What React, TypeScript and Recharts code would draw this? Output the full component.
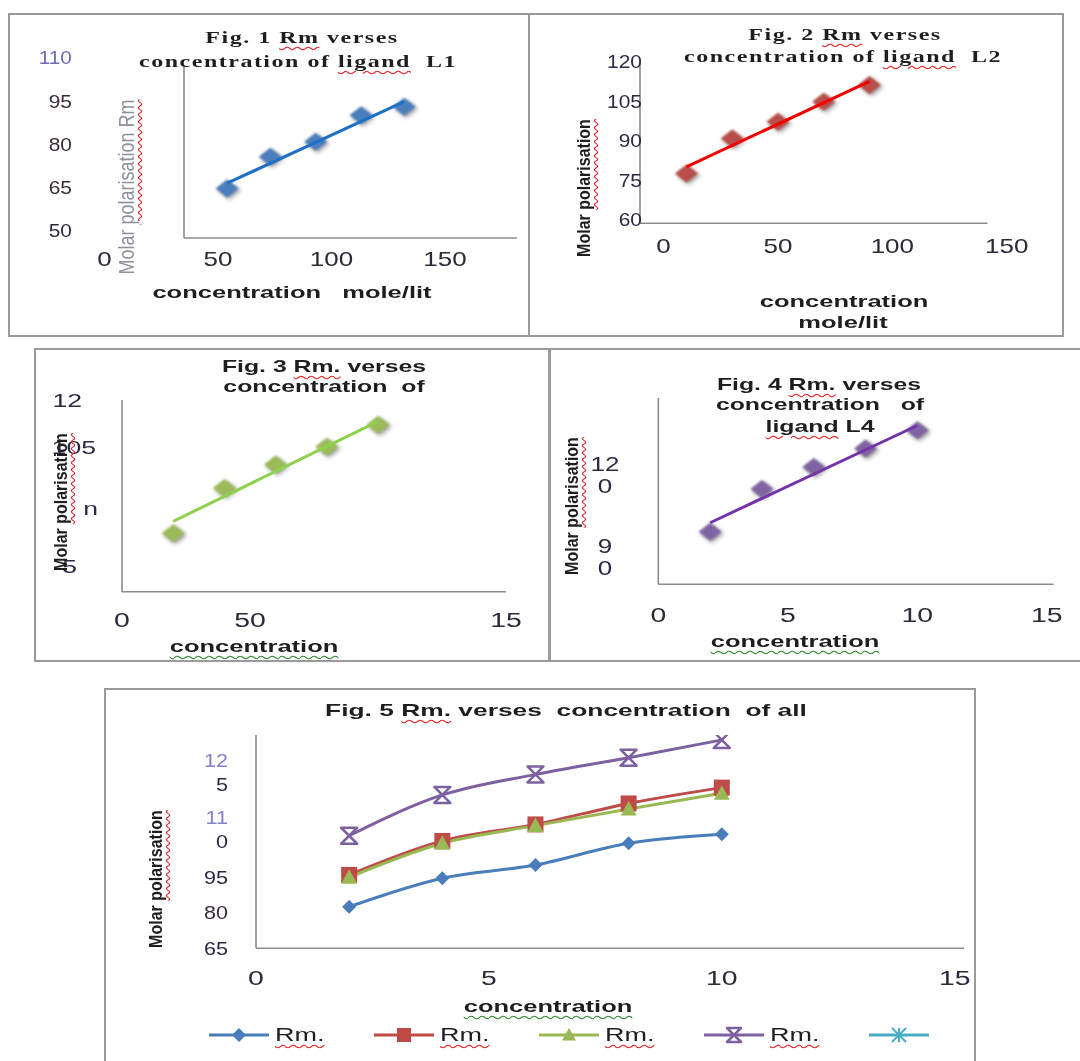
import React from 'react';
import { ScatterChart, Scatter, XAxis, YAxis, LineChart, Line, Legend } from 'recharts';

const W = 1080;
const H = 1061;

// ---------- Fig. 1 (ligand L1) ----------
const fig1X = [54, 73, 93, 113, 132];
const fig1Y = [64.7, 75.7, 80.9, 90.1, 93.0];
const fig1TrendX = [54, 132];
const fig1TrendY = [66.5, 94.8];
const fig1XTicks = [0, 50, 100, 150];
const fig1XLabels = [['0'], ['50'], ['100'], ['150']];
const fig1YTicks = [50, 65, 80, 95, 110];
const fig1YLabels = [['50'], ['65'], ['80'], ['95'], ['110']];

// ---------- Fig. 2 (ligand L2) ----------
const fig2X = [10, 30, 50, 70, 90];
const fig2Y = [77.5, 90.8, 97.2, 104.8, 111.1];
const fig2TrendX = [10, 90];
const fig2TrendY = [80.0, 112.5];
const fig2XTicks = [0, 50, 100, 150];
const fig2XLabels = [['0'], ['50'], ['100'], ['150']];
const fig2YTicks = [60, 75, 90, 105, 120];
const fig2YLabels = [['60'], ['75'], ['90'], ['105'], ['120']];

// ---------- Fig. 3 ----------
const fig3X = [2, 4, 6, 8, 10];
const fig3Y = [84.0, 96.2, 102.6, 107.4, 113.3];
const fig3TrendX = [2, 10];
const fig3TrendY = [87.2, 114.2];
const fig3XTicks = [0, 5, 15];
const fig3XLabels = [['0'], ['50'], ['15']];
const fig3YTicks = [75, 90, 105, 120];
const fig3YLabels = [['5'], ['n'], ['105'], ['12']];

// ---------- Fig. 4 (ligand L4) ----------
const fig4X = [2, 4, 6, 8, 10];
const fig4Y = [99.2, 114.9, 123.0, 129.8, 136.5];
const fig4TrendX = [2, 10];
const fig4TrendY = [102.5, 138.2];
const fig4XTicks = [0, 5, 10, 15];
const fig4XLabels = [['0'], ['5'], ['10'], ['15']];
const fig4YTicks = [90, 120];
const fig4YLabels = [['9', '0'], ['12', '0']];

// ---------- Fig. 5 (all ligands) ----------
const fig5X = [2, 4, 6, 8, 10];
const fig5S1 = [82.6, 94.7, 100.3, 109.5, 113.3];
const fig5S2 = [96.1, 110.5, 117.5, 126.4, 133.1];
const fig5S3 = [95.1, 109.5, 117.0, 124.0, 130.7];
const fig5S4 = [112.7, 130.0, 138.7, 145.8, 153.3];
const fig5Names = ['Rm.', 'Rm.', 'Rm.', 'Rm.', ''];
const fig5Colors = ['#4a7ebb', '#be4b48', '#98b954', '#7d60a0', '#4bacc6'];
const fig5Markers = ['diamond', 'square', 'triangle', 'hourglass', 'asterisk'];
const fig5XTicks = [0, 5, 10, 15];
const fig5XLabels = [['0'], ['5'], ['10'], ['15']];
const fig5YTicks = [65, 80, 95, 110, 125];
const fig5YLabels = [['65'], ['80'], ['95'], ['11', '0'], ['12', '5']];

const SANS = '"Liberation Sans", Arial, sans-serif';
const SERIF = '"Liberation Serif", "Times New Roman", serif';
const AXIS = { stroke: '#8c8c8c', strokeWidth: 1.6 };

type Pt = { x: number; y: number };
const toPts = (xs: number[], ys: number[]): Pt[] => xs.map((x, i) => ({ x, y: ys[i] }));

type TickStyle = {
  size: number; sx: number; color: string; anchor: 'start' | 'middle' | 'end'; gap: number;
  align?: 'center' | 'last'; dx?: number[]; dy?: number[]; colors?: string[];
};

function lookupIndex(ticks: number[], v: number): number {
  return ticks.findIndex((t) => Math.abs(t - v) < 1e-6);
}

function makeXTick(ticks: number[], labels: string[][], labelY: number, st: TickStyle) {
  return (props: any) => {
    const { x, payload } = props;
    const i = lookupIndex(ticks, payload.value);
    const lines = i >= 0 ? labels[i] : [String(payload.value)];
    return (
      <g>
        {lines.map((ln, k) => (
          <text key={k} transform={`translate(${x},${labelY + k * st.gap}) scale(${st.sx},1)`} textAnchor="middle"
            dominantBaseline="central" fontFamily={SANS} fontSize={st.size} fill={st.color}>{ln}</text>
        ))}
      </g>
    );
  };
}

function makeYTick(ticks: number[], labels: string[][], labelX: number, st: TickStyle) {
  return (props: any) => {
    const { y, payload } = props;
    const i = lookupIndex(ticks, payload.value);
    const lines = i >= 0 ? labels[i] : [String(payload.value)];
    const n = lines.length;
    const dx = st.dx && i >= 0 ? st.dx[i] : 0;
    const dy = st.dy && i >= 0 ? st.dy[i] : 0;
    const fill = st.colors && i >= 0 ? st.colors[i] : st.color;
    return (
      <g>
        {lines.map((ln, k) => {
          const yy = (st.align === 'last' ? y - (n - 1 - k) * st.gap : y + (k - (n - 1) / 2) * st.gap) + dy;
          return (
            <text key={k} transform={`translate(${labelX + dx},${yy}) scale(${st.sx},1)`} textAnchor={st.anchor}
              dominantBaseline="central" fontFamily={SANS} fontSize={st.size} fill={k === 0 ? fill : st.color}>{ln}</text>
          );
        })}
      </g>
    );
  };
}

const diamondShape = (fill: string, rx: number, ry: number) => (props: any) => {
  const { cx, cy } = props;
  if (cx == null || cy == null) return <g />;
  return (
    <g>
      <path d={`M${cx + 2},${cy + 2 - ry} L${cx + 2 + rx},${cy + 2} L${cx + 2},${cy + 2 + ry} L${cx + 2 - rx},${cy + 2} Z`}
        fill="rgba(40,40,40,0.45)" filter="url(#softBlur)" />
      <path d={`M${cx},${cy - ry} L${cx + rx},${cy} L${cx},${cy + ry} L${cx - rx},${cy} Z`} fill={fill} filter="url(#tinyBlur)" />
    </g>
  );
};

type FigProps = {
  box: { left: number; top: number; right: number; bottom: number };
  xDomain: [number, number];
  yDomain: [number, number];
  pts: Pt[];
  trend: Pt[];
  markerColor: string;
  lineColor: string;
  xTicks: number[];
  xLabels: string[][];
  xLabelY: number;
  xSt: TickStyle;
  yTicks: number[];
  yLabels: string[][];
  yLabelX: number;
  ySt: TickStyle;
};

// axes get a 1px band so that Recharts still draws them
function Fig(p: FigProps) {
  return (
    <div style={{ position: 'absolute', left: 0, top: 0 }}>
      <ScatterChart width={W} height={H}
        margin={{ top: p.box.top, left: p.box.left - 1, right: W - p.box.right, bottom: H - p.box.bottom - 1 }}>
        <XAxis type="number" dataKey="x" domain={p.xDomain} allowDataOverflow ticks={p.xTicks} interval={0}
          height={1} tickLine={false} axisLine={AXIS} tick={makeXTick(p.xTicks, p.xLabels, p.xLabelY, p.xSt)} />
        <YAxis type="number" dataKey="y" domain={p.yDomain} allowDataOverflow ticks={p.yTicks} interval={0}
          width={1} tickLine={false} axisLine={AXIS} tick={makeYTick(p.yTicks, p.yLabels, p.yLabelX, p.ySt)} />
        <Scatter data={p.pts} fill={p.markerColor} shape={diamondShape(p.markerColor, 11.5, 9)} isAnimationActive={false} />
        <Scatter data={p.trend} line={{ stroke: p.lineColor, strokeWidth: 3 }} shape={() => <g />} isAnimationActive={false} />
      </ScatterChart>
    </div>
  );
}

function marker(kind: string, cx: number, cy: number, color: string, r: number) {
  switch (kind) {
    case 'diamond':
      return <path d={`M${cx},${cy - r} L${cx + r},${cy} L${cx},${cy + r} L${cx - r},${cy} Z`} fill={color} />;
    case 'square':
      return <rect x={cx - r} y={cy - r} width={2 * r} height={2 * r} fill={color} />;
    case 'triangle':
      return <path d={`M${cx},${cy - r} L${cx + r},${cy + r * 0.8} L${cx - r},${cy + r * 0.8} Z`} fill={color} />;
    case 'hourglass':
      return <path d={`M${cx - r},${cy - r} L${cx + r},${cy - r} L${cx - r},${cy + r} L${cx + r},${cy + r} Z`}
        fill="none" stroke={color} strokeWidth={2.5} strokeLinejoin="round" />;
    default:
      return (
        <g stroke={color} strokeWidth={2}>
          <line x1={cx - r} y1={cy - r} x2={cx + r} y2={cy + r} />
          <line x1={cx - r} y1={cy + r} x2={cx + r} y2={cy - r} />
          <line x1={cx} y1={cy - r} x2={cx} y2={cy + r} />
        </g>
      );
  }
}

const markerDot = (kind: string, color: string, r: number) => (props: any) => {
  const { cx, cy, index } = props;
  if (cx == null || cy == null || props.value == null) return <g key={`e${index}`} />;
  return <g key={`d${index}`}>{marker(kind, cx, cy, color, r)}</g>;
};

const Wavy = ({ children, color = '#e52020' }: { children: React.ReactNode; color?: string }) => (
  <span style={{ textDecorationLine: 'underline', textDecorationStyle: 'wavy', textDecorationColor: color,
    textDecorationThickness: '1px', textUnderlineOffset: '3px' }}>{children}</span>
);

type TxtProps = {
  x: number; y: number; size: number; children: React.ReactNode;
  bold?: boolean; serif?: boolean; sx?: number; color?: string; rotate?: boolean; ls?: number;
};
function Txt({ x, y, size, children, bold, serif, sx = 1, color = '#1e1e1e', rotate, ls = 0 }: TxtProps) {
  const tf = rotate ? `translate(-50%,-50%) rotate(-90deg) scale(1,${sx})` : `translate(-50%,-50%) scaleX(${sx})`;
  return (
    <div style={{ position: 'absolute', left: x, top: y, whiteSpace: 'pre', fontFamily: serif ? SERIF : SANS,
      fontSize: size, fontWeight: bold ? 700 : 400, color, lineHeight: 1.15, letterSpacing: ls, transform: tf }}>
      {children}
    </div>
  );
}

function PanelBox({ left, top, right, bottom }: { left: number; top: number; right: number; bottom: number }) {
  return <div style={{ position: 'absolute', left, top, width: right - left, height: bottom - top, border: '2px solid #9a9a9a', boxSizing: 'border-box' }} />;
}

function Fig5Legend(props: any) {
  const items = props.payload || [];
  return (
    <div style={{ position: 'relative', width: W, height: 30 }}>
      {items.map((it: any, i: number) => {
        const x0 = 209 + 165 * i;
        return (
          <div key={i} style={{ position: 'absolute', left: x0, top: 0, height: 30 }}>
            <svg width={62} height={30} style={{ position: 'absolute', left: 0, top: 0 }}>
              <line x1={0} y1={15} x2={60} y2={15} stroke={fig5Colors[i]} strokeWidth={3} />
              {marker(fig5Markers[i], 30, 15, fig5Colors[i], 7)}
            </svg>
            {fig5Names[i] ? (
              <div style={{ position: 'absolute', left: 66, top: 15, transform: 'translateY(-50%) scaleX(1.5)', transformOrigin: 'left center',
                fontFamily: SANS, fontSize: 18, color: '#1e1e1e', whiteSpace: 'pre', lineHeight: 1.15 }}>
                <Wavy>{fig5Names[i]}</Wavy>
              </div>
            ) : null}
          </div>
        );
      })}
    </div>
  );
}

export default function App() {
  const tick12x: TickStyle = { size: 20, sx: 1.3, color: '#2a2a38', anchor: 'middle', gap: 22 };
  const tick12y: TickStyle = { size: 19, sx: 1.1, color: '#2e2a44', anchor: 'end', gap: 22 };
  const tick1y: TickStyle = { ...tick12y, colors: ['#2e2a44', '#3a2c3c', '#3a2c3c', '#3a2c3c', '#6e6cb4'] };
  const tick345x: TickStyle = { size: 20, sx: 1.42, color: '#2a2a38', anchor: 'middle', gap: 22 };
  const fig5Rows = fig5X.map((x, i) => ({ x, s1: fig5S1[i], s2: fig5S2[i], s3: fig5S3[i], s4: fig5S4[i] }));
  const series5 = [fig5S1, fig5S2, fig5S3, fig5S4];

  return (
    <div style={{ position: 'absolute', left: 0, top: 0, width: W, height: H, background: '#fff', overflow: 'hidden', filter: 'blur(0.45px)' }}>
      <svg width={0} height={0} style={{ position: 'absolute' }}>
        <defs>
          <filter id="softBlur" x="-50%" y="-50%" width="200%" height="200%">
            <feGaussianBlur stdDeviation="2" />
          </filter>
          <filter id="tinyBlur" x="-30%" y="-30%" width="160%" height="160%">
            <feGaussianBlur stdDeviation="0.8" />
          </filter>
        </defs>
      </svg>

      <PanelBox left={8} top={13} right={530} bottom={337} />
      <PanelBox left={528} top={13} right={1064} bottom={337} />
      <PanelBox left={34} top={348} right={550} bottom={662} />
      <PanelBox left={549} top={348} right={1090} bottom={662} />
      <PanelBox left={104} top={688} right={976} bottom={1075} />

      <Fig box={{ left: 184, top: 67, right: 517, bottom: 238 }} xDomain={[35, 181.7]} yDomain={[47.5, 106.8]}
        pts={toPts(fig1X, fig1Y)} trend={toPts(fig1TrendX, fig1TrendY)} markerColor="#4a7ebb" lineColor="#1f6fc4"
        xTicks={fig1XTicks} xLabels={fig1XLabels} xLabelY={259} xSt={tick12x}
        yTicks={fig1YTicks} yLabels={fig1YLabels} yLabelX={72} ySt={tick1y} />

      <Fig box={{ left: 640, top: 62, right: 987.5, bottom: 223.3 }} xDomain={[-10.3, 141.6]} yDomain={[58.5, 119.9]}
        pts={toPts(fig2X, fig2Y)} trend={toPts(fig2TrendX, fig2TrendY)} markerColor="#b84d4a" lineColor="#f00000"
        xTicks={fig2XTicks} xLabels={fig2XLabels} xLabelY={246} xSt={tick12x}
        yTicks={fig2YTicks} yLabels={fig2YLabels} yLabelX={642} ySt={tick12y} />

      <Fig box={{ left: 122, top: 400, right: 506, bottom: 591.7 }} xDomain={[0, 15]} yDomain={[68.2, 120]}
        pts={toPts(fig3X, fig3Y)} trend={toPts(fig3TrendX, fig3TrendY)} markerColor="#9bbb59" lineColor="#8fd14f"
        xTicks={fig3XTicks} xLabels={fig3XLabels} xLabelY={620} xSt={tick345x}
        yTicks={fig3YTicks} yLabels={fig3YLabels} yLabelX={96}
        ySt={{ size: 19, sx: 1.4, color: '#2a2a44', anchor: 'end', gap: 22, dx: [-19, 2, 0, -14], dy: [0, -3, -8, 0] }} />

      <Fig box={{ left: 658.3, top: 398, right: 1053.6, bottom: 584.3 }} xDomain={[0, 15.26]} yDomain={[79.9, 148.3]}
        pts={toPts(fig4X, fig4Y)} trend={toPts(fig4TrendX, fig4TrendY)} markerColor="#8064a2" lineColor="#7234a8"
        xTicks={fig4XTicks} xLabels={fig4XLabels} xLabelY={615} xSt={tick345x}
        yTicks={fig4YTicks} yLabels={fig4YLabels} yLabelX={605} ySt={{ size: 20, sx: 1.3, color: '#2a2a44', anchor: 'middle', gap: 22 }} />

      <div style={{ position: 'absolute', left: 0, top: 0 }}>
        <LineChart width={W} height={H} data={fig5Rows} margin={{ top: 735, left: 255, right: W - 964, bottom: H - 948.3 - 1 }}>
          <XAxis type="number" dataKey="x" domain={[0, 15.2]} allowDataOverflow ticks={fig5XTicks} interval={0}
            height={1} tickLine={false} axisLine={AXIS} tick={makeXTick(fig5XTicks, fig5XLabels, 978, tick345x)} />
          <YAxis type="number" domain={[65, 155.4]} allowDataOverflow ticks={fig5YTicks} interval={0} width={1}
            tickLine={false} axisLine={AXIS}
            tick={makeYTick(fig5YTicks, fig5YLabels, 228, {
              size: 18, sx: 1.2, color: '#2a2a48', anchor: 'end', gap: 24, align: 'last',
              dy: [0, 0, 0, 0, -22], colors: ['#2a2a48', '#3a2a40', '#2a2a48', '#8482c8', '#8482c8'],
            })} />
          {series5.map((_, i) => (
            <Line key={i} dataKey={`s${i + 1}`} name={fig5Names[i]} type="monotone" stroke={fig5Colors[i]} strokeWidth={3}
              dot={markerDot(fig5Markers[i], fig5Colors[i], i === 0 ? 7 : 8)} isAnimationActive={false} />
          ))}
          <Line dataKey="s5" name={fig5Names[4]} type="monotone" stroke={fig5Colors[4]} strokeWidth={3} dot={false} isAnimationActive={false} />
          <Legend layout="horizontal" verticalAlign="middle" align="center"
            wrapperStyle={{ left: 0, top: 1020, width: W, height: 30 }} content={Fig5Legend} />
        </LineChart>
      </div>

      {/* Titles */}
      <Txt x={302} y={38} size={16} bold serif sx={1.5} ls={1}>Fig. 1 <Wavy>Rm</Wavy> verses</Txt>
      <Txt x={298} y={62} size={16} bold serif sx={1.5} ls={1}>concentration of <Wavy>ligand</Wavy>  L1</Txt>
      <Txt x={845} y={35} size={16} bold serif sx={1.5} ls={1}>Fig. 2 <Wavy>Rm</Wavy> verses</Txt>
      <Txt x={843} y={57} size={16} bold serif sx={1.5} ls={1}>concentration of <Wavy>ligand</Wavy>  L2</Txt>
      <Txt x={324} y={367} size={17} bold sx={1.46}>Fig. 3 <Wavy>Rm.</Wavy> verses</Txt>
      <Txt x={323.5} y={387} size={17} bold sx={1.46}>concentration  of</Txt>
      <Txt x={818.6} y={385} size={17} bold sx={1.46}>Fig. 4 <Wavy>Rm.</Wavy> verses</Txt>
      <Txt x={819.5} y={405} size={17} bold sx={1.46}>concentration   of</Txt>
      <Txt x={820} y={427} size={17} bold sx={1.46}><Wavy>ligand</Wavy> L4</Txt>
      <Txt x={566} y={711} size={17} bold sx={1.55}>Fig. 5 <Wavy>Rm.</Wavy> verses  concentration  of all</Txt>

      {/* X axis titles */}
      <Txt x={292} y={293} size={17} bold sx={1.5}>concentration   mole/lit</Txt>
      <Txt x={844} y={302} size={17} bold sx={1.5}>concentration</Txt>
      <Txt x={843} y={323} size={17} bold sx={1.5}>mole/lit</Txt>
      <Txt x={254} y={647} size={17} bold sx={1.5}><Wavy color="#2a8a2a">concentration</Wavy></Txt>
      <Txt x={795} y={642} size={17} bold sx={1.5}><Wavy color="#2a8a2a">concentration</Wavy></Txt>
      <Txt x={547.5} y={1007} size={17} bold sx={1.5}><Wavy color="#2a8a2a">concentration</Wavy></Txt>

      {/* Y axis titles */}
      <Txt x={127} y={187} size={18} rotate sx={1.2} color="#8a929c">Molar <Wavy>polarisation Rm</Wavy></Txt>
      <Txt x={584} y={188} size={16} bold rotate sx={1.2}>Molar <Wavy>polarisation</Wavy></Txt>
      <Txt x={61} y={502} size={16} bold rotate sx={1.2}>Molar <Wavy>polarisation</Wavy></Txt>
      <Txt x={572} y={506} size={16} bold rotate sx={1.2}>Molar <Wavy>polarisation</Wavy></Txt>
      <Txt x={156} y={879} size={16} bold rotate sx={1.2}>Molar <Wavy>polarisation</Wavy></Txt>
    </div>
  );
}
